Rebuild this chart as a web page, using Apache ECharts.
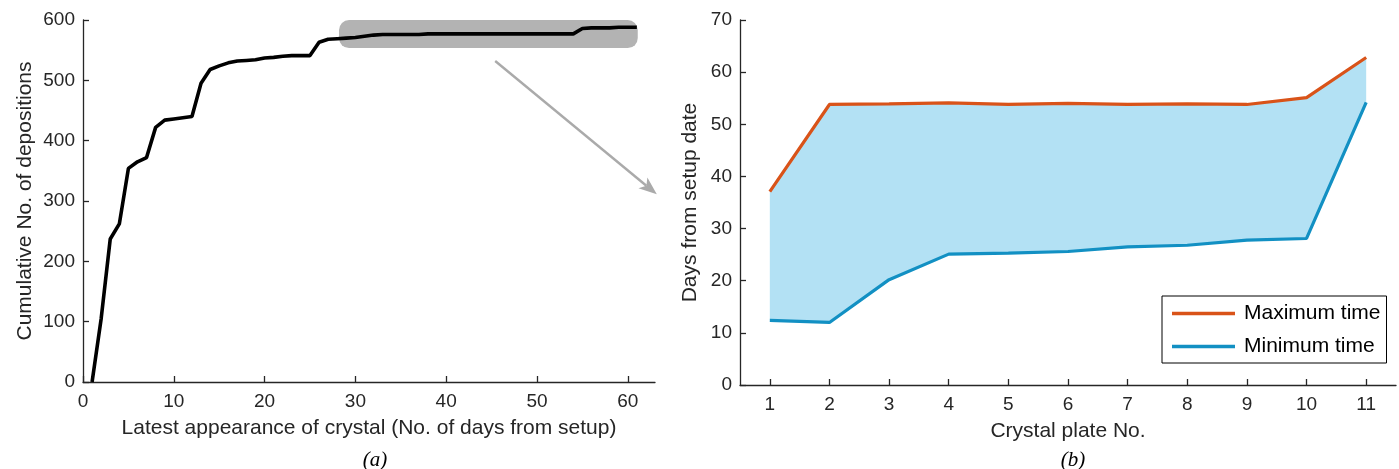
<!DOCTYPE html>
<html><head><meta charset="utf-8">
<script src="https://cdn.jsdelivr.net/npm/echarts@6/dist/echarts.min.js"></script>
<style>html,body{margin:0;padding:0;background:#fff}#c{width:1399px;height:469px}</style>
</head><body><div id="c"></div>
<script>
// ---- Panel (a): cumulative depositions by day ----
const days = [1,2,3,4,5,6,7,8,9,10,11,12,13,14,15,16,17,18,19,20,21,22,23,24,25,26,27,28,29,30,31,32,33,34,35,36,37,38,39,40,41,42,43,44,45,46,47,48,49,50,51,52,53,54,55,56,57,58,59,60,61];
const cumulative = [0,105,237,262,354,365,372,422,434,436,438,440,495,518,524,529,532,533,534,537,538,540,541,541,541,563,568,569,570,571,573,575,576,576,576,576,576,577,577,577,577,577,577,577,577,577,577,577,577,577,577,577,577,577,586,587,587,587,588,588,588];
const xTicksA = [0,10,20,30,40,50,60];
// highlight box [xStart, xEnd, yLow, yHigh] and arrow [x0, y0, x1, y1] in data units
const highlightBox = [28.2, 61.1, 553.5, 600];
const arrowPts = [45.4, 532, 63.2, 311];

// ---- Panel (b): days from setup per crystal plate ----
const plates = ['1','2','3','4','5','6','7','8','9','10','11'];
const maxTime = [37.1, 53.8, 53.9, 54.1, 53.8, 54.0, 53.8, 53.9, 53.8, 55.1, 62.8];
const minTime = [12.4, 12.0, 20.2, 25.1, 25.3, 25.6, 26.5, 26.8, 27.8, 28.1, 54.2];
const bandWidth = maxTime.map((v, i) => +(v - minTime[i]).toFixed(2));

const FONT = 'Liberation Sans, Arial, sans-serif';
const AX = '#262626';
const ORANGE = '#D95319';
const BLUE = '#1290C3';
const FILL = '#B3E1F4';

const chart = echarts.init(document.getElementById('c'), null, {renderer: 'canvas'});
const axisCommon = {
  axisLine: {show: true, lineStyle: {color: AX, width: 1.3}},
  axisTick: {show: true, inside: true, length: 6, lineStyle: {color: AX, width: 1.3}},
  axisLabel: {color: AX, fontFamily: FONT, fontSize: 19},
  splitLine: {show: false},
  nameTextStyle: {color: AX, fontFamily: FONT, fontSize: 21}
};

chart.setOption({
  animation: false,
  title: [
    {text: '(a)', left: 370, top: 445, textAlign: 'center', textStyle: {fontFamily: 'Liberation Serif, serif', fontStyle: 'italic', fontWeight: 'normal', fontSize: 21, color: '#000'}},
    {text: '(b)', left: 1068, top: 445, textAlign: 'center', textStyle: {fontFamily: 'Liberation Serif, serif', fontStyle: 'italic', fontWeight: 'normal', fontSize: 21, color: '#000'}}
  ],
  grid: [
    {left: 83, top: 20, width: 572, height: 362},
    {left: 740, top: 20, width: 656, height: 365}
  ],
  legend: {
    data: ['Maximum time', 'Minimum time'],
    orient: 'vertical',
    left: 1162, top: 296,
    backgroundColor: '#fff',
    borderColor: '#000', borderWidth: 1, borderRadius: 0,
    padding: [7, 6, 6, 10],
    icon: 'rect',
    itemWidth: 63, itemHeight: 3.5, itemGap: 12,
    textStyle: {fontFamily: FONT, fontSize: 21, color: '#000', padding: [0, 0, 0, 4]}
  },
  xAxis: [
    Object.assign({}, axisCommon, {
      gridIndex: 0, type: 'value', min: 0, max: 63, interval: 10,
      name: 'Latest appearance of crystal (No. of days from setup)',
      nameLocation: 'middle', nameGap: 36,
      axisTick: Object.assign({}, axisCommon.axisTick, {customValues: xTicksA}),
      axisLabel: Object.assign({}, axisCommon.axisLabel, {customValues: xTicksA, margin: 10})
    }),
    Object.assign({}, axisCommon, {
      gridIndex: 1, type: 'category', data: plates, boundaryGap: true,
      name: 'Crystal plate No.', nameLocation: 'middle', nameGap: 36,
      axisTick: Object.assign({}, axisCommon.axisTick, {alignWithLabel: true}),
      axisLabel: Object.assign({}, axisCommon.axisLabel, {margin: 10})
    })
  ],
  yAxis: [
    Object.assign({}, axisCommon, {
      gridIndex: 0, type: 'value', min: 0, max: 600, interval: 100,
      name: 'Cumulative No. of depositions', nameLocation: 'middle', nameGap: 47,
      axisLabel: Object.assign({}, axisCommon.axisLabel, {margin: 8})
    }),
    Object.assign({}, axisCommon, {
      gridIndex: 1, type: 'value', min: 0, max: 70, interval: 10,
      name: 'Days from setup date', nameLocation: 'middle', nameGap: 39,
      axisLabel: Object.assign({}, axisCommon.axisLabel, {margin: 8})
    })
  ],
  series: [
    {
      type: 'custom', xAxisIndex: 0, yAxisIndex: 0, z: 1, silent: true,
      data: [highlightBox],
      renderItem: function (params, api) {
        const p0 = api.coord([api.value(0), api.value(3)]);
        const p1 = api.coord([api.value(1), api.value(2)]);
        return {type: 'rect', shape: {x: p0[0], y: p0[1], width: p1[0] - p0[0], height: p1[1] - p0[1], r: 10},
                style: {fill: '#B3B3B3'}};
      }
    },
    {
      type: 'custom', xAxisIndex: 0, yAxisIndex: 0, z: 2, silent: true, clip: false,
      data: [arrowPts],
      renderItem: function (params, api) {
        const a = api.coord([api.value(0), api.value(1)]);
        const b = api.coord([api.value(2), api.value(3)]);
        const dx = b[0] - a[0], dy = b[1] - a[1];
        const len = Math.sqrt(dx * dx + dy * dy);
        const ux = dx / len, uy = dy / len;
        const hl = 18, hw = 7;
        const base = [b[0] - ux * hl, b[1] - uy * hl];
        const notch = [b[0] - ux * hl * 0.75, b[1] - uy * hl * 0.75];
        return {type: 'group', children: [
          {type: 'line', shape: {x1: a[0], y1: a[1], x2: notch[0], y2: notch[1]}, style: {stroke: '#AAAAAA', lineWidth: 2.4}},
          {type: 'polygon', shape: {points: [
            b, [base[0] - uy * hw, base[1] + ux * hw], notch, [base[0] + uy * hw, base[1] - ux * hw]
          ]}, style: {fill: '#AAAAAA'}}
        ]};
      }
    },
    {
      name: 'cumulative', type: 'line', xAxisIndex: 0, yAxisIndex: 0, z: 3,
      data: days.map((d, i) => [d, cumulative[i]]),
      showSymbol: false, symbol: 'none',
      lineStyle: {color: '#000', width: 3.6}, itemStyle: {color: '#000'}
    },
    {
      name: 'bandBase', type: 'line', xAxisIndex: 1, yAxisIndex: 1, stack: 'band',
      data: minTime, showSymbol: false, symbol: 'none', lineStyle: {opacity: 0}, areaStyle: {opacity: 0}, silent: true, z: 1
    },
    {
      name: 'bandFill', type: 'line', xAxisIndex: 1, yAxisIndex: 1, stack: 'band',
      data: bandWidth, showSymbol: false, symbol: 'none', lineStyle: {opacity: 0}, areaStyle: {color: FILL, opacity: 1}, silent: true, z: 1
    },
    {
      name: 'Maximum time', type: 'line', xAxisIndex: 1, yAxisIndex: 1, z: 3,
      data: maxTime, showSymbol: false, symbol: 'none',
      lineStyle: {color: ORANGE, width: 3.2}, itemStyle: {color: ORANGE}
    },
    {
      name: 'Minimum time', type: 'line', xAxisIndex: 1, yAxisIndex: 1, z: 3,
      data: minTime, showSymbol: false, symbol: 'none',
      lineStyle: {color: BLUE, width: 3.2}, itemStyle: {color: BLUE}
    }
  ]
});
</script></body></html>
